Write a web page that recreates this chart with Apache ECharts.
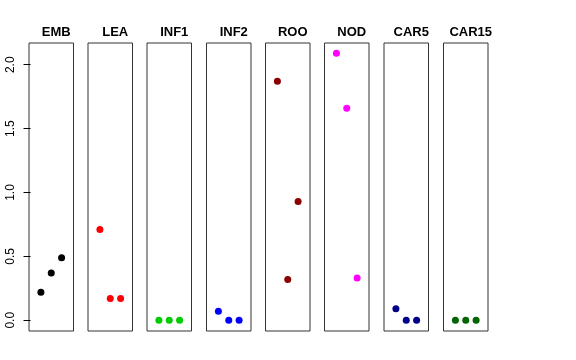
<!DOCTYPE html>
<html>
<head>
<meta charset="utf-8">
<script src="https://cdn.jsdelivr.net/npm/echarts@6/dist/echarts.min.js"></script>
<style>html,body{margin:0;padding:0;background:#fff}#c{width:576px;height:360px}</style>
</head>
<body>
<div id="c"></div>
<script>
var categories = ['EMB', 'LEA', 'INF1', 'INF2', 'ROO', 'NOD', 'CAR5', 'CAR15'];
var EMB = [0.22, 0.37, 0.49];
var LEA = [0.71, 0.17, 0.17];
var INF1 = [0, 0, 0];
var INF2 = [0.07, 0, 0];
var ROO = [1.87, 0.32, 0.93];
var NOD = [2.09, 1.66, 0.33];
var CAR5 = [0.09, 0, 0];
var CAR15 = [0, 0, 0];
var seriesValues = [EMB, LEA, INF1, INF2, ROO, NOD, CAR5, CAR15];
var colors = ['#000000', '#FF0000', '#00CD00', '#0000FF', '#8B0000', '#FF00FF', '#00008B', '#006400'];
var yTicks = [0, 0.5, 1, 1.5, 2];

var lefts = [29, 88, 147, 206.5, 265.5, 324.5, 384, 443.5];
var panelW = 44.5;
var grids = [], xAxes = [], yAxes = [], series = [], titles = [];
categories.forEach(function (name, i) {
  grids.push({left: lefts[i], top: 43, width: panelW, height: 288, show: true,
    borderColor: '#333', borderWidth: 1, backgroundColor: 'transparent'});
  xAxes.push({type: 'value', gridIndex: i, min: -0.15, max: 4.15, show: false});
  yAxes.push({type: 'value', gridIndex: i, min: -0.084, max: 2.17,
    show: i === 0, splitLine: {show: false},
    axisLine: {show: false},
    axisTick: {show: true, length: 7, customValues: yTicks, lineStyle: {color: '#000'}},
    axisLabel: {show: true, customValues: yTicks, rotate: 90, margin: 12,
      fontFamily: 'Liberation Sans', fontSize: 12, color: '#000',
      formatter: function (v) { return v.toFixed(1); }}
  });
  series.push({type: 'scatter', xAxisIndex: i, yAxisIndex: i, symbolSize: 7,
    itemStyle: {color: colors[i], opacity: 1},
    data: seriesValues[i].map(function (v, j) { return [j + 1, v]; }),
    silent: true, animation: false});
  titles.push({text: name, left: lefts[i] + panelW / 2, top: 21, textAlign: 'center',
    textStyle: {fontFamily: 'Liberation Sans', fontWeight: 'bold', fontSize: 13, color: '#000'}});
});

var chart = echarts.init(document.getElementById('c'), null, {renderer: 'canvas'});
chart.setOption({
  animation: false,
  backgroundColor: '#fff',
  title: titles,
  grid: grids,
  xAxis: xAxes,
  yAxis: yAxes,
  series: series
});
</script>
</body>
</html>
